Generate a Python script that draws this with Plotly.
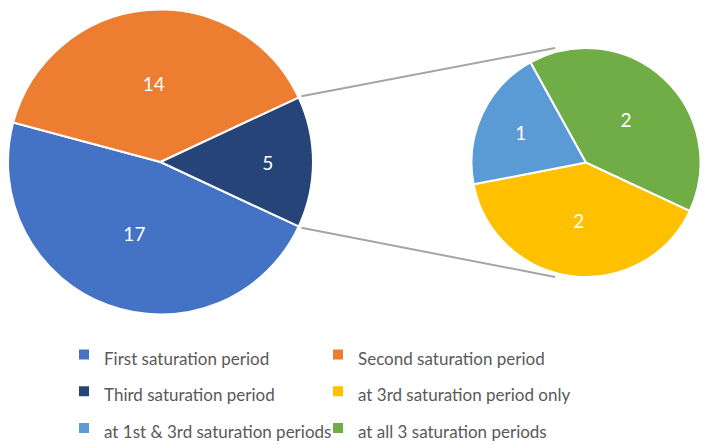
import math
import plotly.graph_objects as go

# ---- data ----
main_labels = ["First saturation period", "Second saturation period", "Third saturation period"]
main_values = [17, 14, 5]
main_colors = ["#4472C4", "#ED7D31", "#264478"]

sub_labels = ["at 3rd saturation period only", "at 1st & 3rd saturation periods", "at all 3 saturation periods"]
sub_values = [2, 1, 2]
sub_colors = ["#FFC000", "#5B9BD5", "#70AD47"]

W, H = 708, 445
OFF = 8  # page body margin offset

# geometry (page pixels)
main_c, main_r = (160.5 - OFF, 162 - OFF), 152.5
sub_c, sub_r = (586 - OFF, 162.5 - OFF), 114.5


def dom(c, r):
    return dict(x=[max(0, (c[0] - r) / W), min(1, (c[0] + r) / W)],
                y=[max(0, 1 - (c[1] + r) / H), min(1, 1 - (c[1] - r) / H)])


def styled(labels):
    return ["<span style='font-size:17px'>%s</span>" % s for s in labels]


fig = go.Figure()
fig.add_trace(go.Pie(
    labels=styled(main_labels), values=main_values, sort=False, direction="clockwise",
    rotation=115, domain=dom(main_c, main_r),
    marker=dict(colors=main_colors, line=dict(color="white", width=2)),
    textinfo="value", textposition="inside", insidetextorientation="horizontal",
    textfont=dict(color="white", size=19, family="Lato"),
    hoverinfo="label+value",
))
fig.add_trace(go.Pie(
    labels=styled(sub_labels), values=sub_values, sort=False, direction="clockwise",
    rotation=115, domain=dom(sub_c, sub_r),
    marker=dict(colors=sub_colors, line=dict(color="white", width=2)),
    textinfo="value", textposition="inside", insidetextorientation="horizontal",
    textfont=dict(color="white", size=19, family="Lato"),
    hoverinfo="label+value",
))

# connector lines from split slice edges to secondary pie
half = 360 * main_values[2] / sum(main_values) / 2
shapes = []
for sgn in (1, -1):
    a = math.radians(sgn * half)
    x0 = main_c[0] + (main_r + 3) * math.cos(a)
    y0 = main_c[1] - (main_r + 3) * math.sin(a)
    x1 = sub_c[0] - 0.27 * sub_r
    y1 = sub_c[1] - sgn * sub_r
    shapes.append(dict(type="line", xref="paper", yref="paper",
                       x0=x0 / W, y0=1 - y0 / H, x1=x1 / W, y1=1 - y1 / H,
                       line=dict(color="#A5A5A5", width=2), layer="below"))

fig.update_layout(
    width=W, height=H,
    margin=dict(l=0, r=0, t=0, b=0, autoexpand=False),
    paper_bgcolor="white", plot_bgcolor="white",
    shapes=shapes,
    showlegend=True,
    legend=dict(orientation="h", xref="container", yref="container",
                x=56 / W, xanchor="left", y=1 - 323 / H, yanchor="top",
                entrywidth=209, entrywidthmode="pixels",
                font=dict(family="Lato", size=26, color="#595959"),
                traceorder="normal"),
)

fig.write_html("out.html")
